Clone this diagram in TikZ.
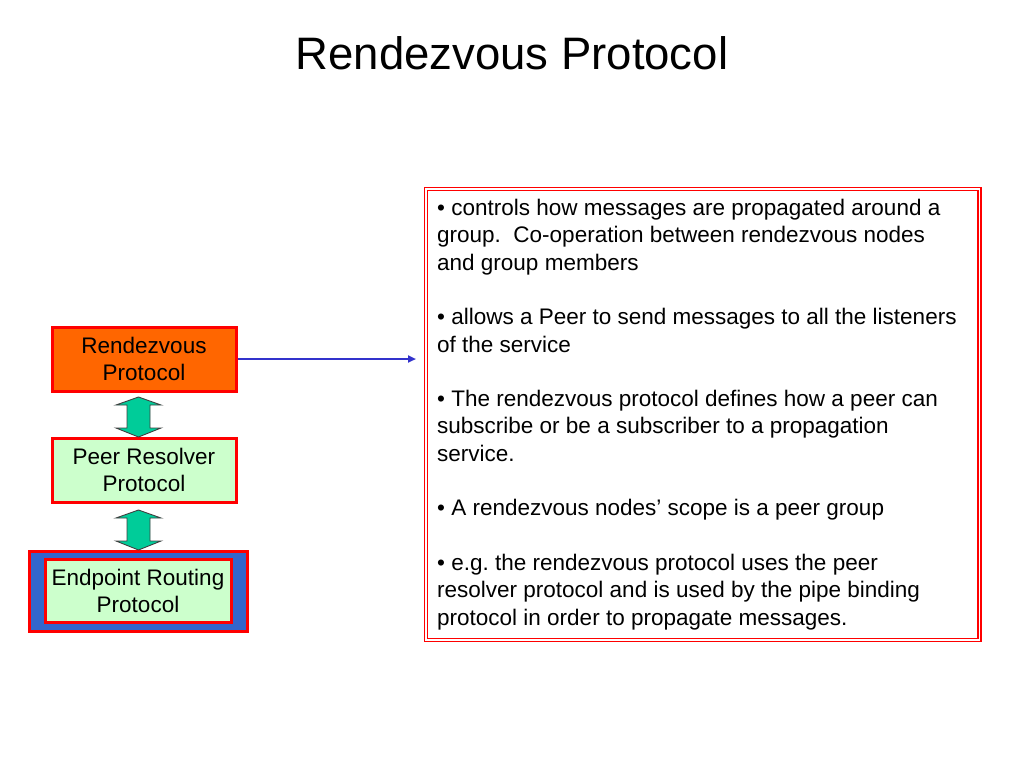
\documentclass[tikz,border=0pt]{standalone}
\usepackage{fontspec}
\setmainfont{Liberation Sans}
\usetikzlibrary{arrows.meta,calc}
\definecolor{bred}{HTML}{FF0000}
\definecolor{borange}{HTML}{FF6600}
\definecolor{lgreen}{HTML}{CCFFCC}
\definecolor{eblue}{HTML}{3366CC}
\definecolor{tealfill}{HTML}{00CC99}
\definecolor{cblue}{HTML}{3333CC}
\begin{document}
\begin{tikzpicture}[x=1pt,y=-1pt,
  proto/.style={draw=bred, line width=3pt, minimum width=184pt, minimum height=64pt,
    inner sep=0pt, align=center, font=\fontsize{22.5}{27}\selectfont},
  dblarrow/.style={fill=tealfill, draw=black!75, line width=0.9pt, line join=miter},
  conn/.style={draw=cblue, line width=2.4pt, -{Triangle[length=8pt,width=7pt]}},
  descbox/.style={draw=bred, line width=1.5pt, double=white, double distance=1.8pt,
    minimum width=553.5pt, minimum height=451pt, inner sep=0pt},
  desctext/.style={inner sep=0pt, align=left, font=\fontsize{22.5}{27.3}\selectfont\frenchspacing},
  titlestyle/.style={inner sep=0pt, font=\fontsize{45.5}{55}\selectfont}
]
\useasboundingbox (0,0) rectangle (1024,768);
\fill[white] (0,0) rectangle (1024,768);

\node[titlestyle, anchor=base] (title) at (512,70) {Rendezvous Protocol};

% left stack
\node[proto, fill=borange] (r) at (144,359) {Rendezvous\\ Protocol};
\node[proto, fill=lgreen] (p) at (144,470) {Peer Resolver\\ Protocol};
\node[draw=bred, line width=3pt, fill=eblue, minimum width=218pt, minimum height=80pt, inner sep=0pt] (eo) at (138,591) {};
\node[proto, fill=lgreen, minimum width=186pt, minimum height=63pt] (e) at (138,590.5) {Endpoint Routing\\ Protocol};

% double arrows
\coordinate (da1) at (138.5,417);
\coordinate (da2) at (138.5,530);
\draw[dblarrow, shift={(da1)}] (0,-20) -- (22.5,-12) -- (11.5,-12) -- (11.5,11) -- (22.5,11) -- (0,20) -- (-22.5,11) -- (-11.5,11) -- (-11.5,-12) -- (-22.5,-12) -- cycle;
\draw[dblarrow, shift={(da2)}] (0,-20) -- (22.5,-12) -- (11.5,-12) -- (11.5,11) -- (22.5,11) -- (0,20) -- (-22.5,11) -- (-11.5,11) -- (-11.5,-12) -- (-22.5,-12) -- cycle;

% description box
\node[descbox] (desc) at (702.75,414.5) {};
\node[desctext, anchor=north west] (dtext) at (437,199) {%
• controls how messages are propagated around a\\
group.\ \ Co-operation between rendezvous nodes\\
and group members\\[27.3pt]
• allows a Peer to send messages to all the listeners\\
of the service\\[27.3pt]
• The rendezvous protocol defines how a peer can\\
subscribe or be a subscriber to a propagation\\
service.\\[27.3pt]
• A rendezvous nodes’ scope is a peer group\\[27.3pt]
• e.g. the rendezvous protocol uses the peer\\
resolver protocol and is used by the pipe binding\\
protocol in order to propagate messages.};

% connector
\coordinate (tip) at (416,358);
\draw[conn] (r.east) -- (r.east -| tip);
\end{tikzpicture}
\end{document}
